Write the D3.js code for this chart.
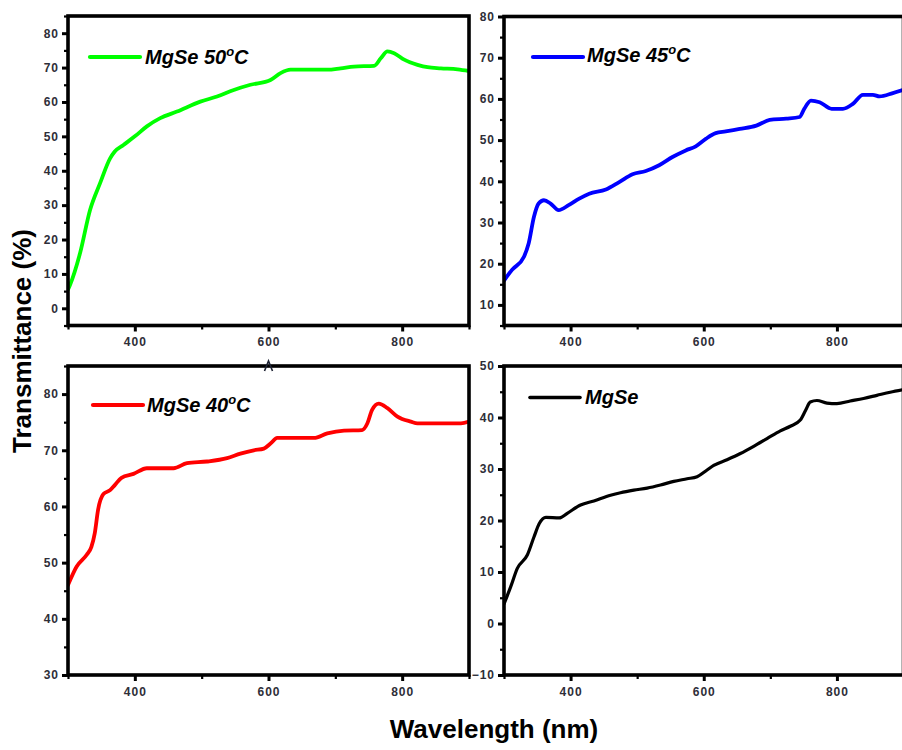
<!DOCTYPE html>
<html>
<head>
<meta charset="utf-8">
<script src="https://cdn.jsdelivr.net/npm/d3@7"></script>
<style>
  body { margin: 0; background: #fff; }
  svg { display: block; }
</style>
</head>
<body>
<svg id="chart" width="902" height="750"></svg>
<script>
// ---- Transmittance spectra (wavelength in nm, transmittance in %) ----
const nm50 = [300, 303, 318, 333, 348, 363, 370, 383, 400, 418, 438, 463, 498, 523, 548, 573, 603, 618, 633, 688, 708, 728, 758, 768, 778, 788, 803, 823, 838, 858, 883, 900];
const t50  = [5.5, 6.8, 16, 28.6, 36.4, 43.6, 45.6, 47.5, 50, 52.9, 55.3, 57.2, 60.1, 61.6, 63.5, 65, 66.4, 68.4, 69.4, 69.4, 69.8, 70.3, 70.5, 72.7, 74.7, 74.2, 72.3, 70.8, 70.1, 69.8, 69.5, 69];

const nm45 = [300, 312, 330, 337, 345, 352, 360, 370, 382, 397, 413, 428, 453, 473, 493, 513, 533, 553, 573, 588, 603, 618, 633, 654, 679, 699, 724, 744, 751, 761, 774, 792, 809, 824, 839, 854, 864, 884, 900];
const t45  = [15.9, 18.5, 21.7, 24.9, 31.4, 34.6, 35.4, 34.6, 33.0, 34.2, 35.8, 37, 38, 39.8, 41.7, 42.5, 43.9, 45.9, 47.5, 48.5, 50.3, 51.7, 52.1, 52.7, 53.5, 54.9, 55.2, 55.6, 57.6, 59.6, 59.2, 57.6, 57.6, 58.8, 61, 61, 60.6, 61.4, 62.2];

const nm40 = [300, 313, 328, 335, 340, 345, 353, 363, 370, 380, 398, 418, 458, 478, 508, 538, 558, 578, 593, 603, 613, 668, 688, 713, 740, 748, 755, 765, 778, 793, 813, 823, 888, 900];
const t40  = [46, 49.3, 51.4, 52.8, 55.2, 59.4, 62.2, 62.9, 63.8, 65.1, 65.8, 66.8, 66.8, 67.7, 68, 68.6, 69.4, 70, 70.3, 71.2, 72.2, 72.2, 73, 73.5, 73.6, 74.8, 77.2, 78.3, 77.5, 76, 75.1, 74.8, 74.8, 75.1];

const nmRT = [300, 310, 320, 335, 345, 353, 363, 383, 395, 415, 435, 460, 475, 495, 515, 535, 555, 575, 590, 605, 615, 635, 655, 675, 695, 715, 730, 745, 753, 760, 770, 785, 800, 820, 840, 860, 880, 900];
const tRT  = [3.8, 7.1, 10.7, 13.3, 16.8, 19.4, 20.6, 20.5, 21.4, 23, 23.8, 24.9, 25.4, 25.9, 26.3, 26.9, 27.6, 28.1, 28.5, 29.8, 30.7, 31.8, 33, 34.4, 35.9, 37.4, 38.3, 39.5, 41.4, 43, 43.3, 42.8, 42.7, 43.2, 43.7, 44.3, 44.9, 45.4];

// ---- Axis ticks ----
const xDomain = [300, 900];
const xMajor = [400, 600, 800];
const xMinor = [300, 500, 700, 900];

const yMajor50 = [0, 10, 20, 30, 40, 50, 60, 70, 80];
const yMinor50 = [-5, 5, 15, 25, 35, 45, 55, 65, 75, 85];
const yMajor45 = [10, 20, 30, 40, 50, 60, 70, 80];
const yMinor45 = [5, 15, 25, 35, 45, 55, 65, 75];
const yMajor40 = [30, 40, 50, 60, 70, 80];
const yMinor40 = [35, 45, 55, 65, 75, 85];
const yMajorRT = [-10, 0, 10, 20, 30, 40, 50];
const yMinorRT = [-5, 5, 15, 25, 35, 45];

// ---- Series labels (text, superscript, trailing text) ----
const labels = [
  ["MgSe 50", "o", "C"],
  ["MgSe 45", "o", "C"],
  ["MgSe 40", "o", "C"],
  ["MgSe", "", ""]
];
const colors = ["#00ff00", "#0000ff", "#ff0000", "#000000"];

// ---- Panel layout ----
const panels = [
  { x: nm50, y: t50, yDom: [-5, 85], yMaj: yMajor50, yMin: yMinor50,
    box: [68, 16, 469, 325.5], leg: [22, 41, 77, 47.5], width: 3.8 },
  { x: nm45, y: t45, yDom: [5, 80],  yMaj: yMajor45, yMin: yMinor45,
    box: [504, 16.5, 903.5, 325.5], leg: [29, 40.5, 83, 45.5], width: 3.8 },
  { x: nm40, y: t40, yDom: [30, 85], yMaj: yMajor40, yMin: yMinor40,
    box: [68, 366, 469, 675], leg: [25, 39, 79, 45.5], width: 3.8, caret: 600 },
  { x: nmRT, y: tRT, yDom: [-10, 50], yMaj: yMajorRT, yMin: yMinorRT,
    box: [504, 366, 903.5, 675], leg: [26, 31.5, 81, 37.5], width: 3.2 }
];

const FONT = "'Liberation Sans', Arial, Helvetica, sans-serif";
const svg = d3.select("#chart").style("font-family", FONT);

function styleAxis(g) {
  g.select(".domain").remove();
  g.selectAll(".tick line").attr("stroke", "#000").attr("stroke-width", 3);
  g.selectAll(".tick text")
    .attr("fill", "#2e2e38")
    .style("font-size", "12px")
    .style("font-weight", "bold")
    .style("letter-spacing", "1px");
}

panels.forEach((p, i) => {
  const [x0, y0, x1, y1] = p.box;
  const x = d3.scaleLinear().domain(xDomain).range([x0, x1]);
  const y = d3.scaleLinear().domain(p.yDom).range([y1, y0]);
  const g = svg.append("g");

  const clipId = "clip" + i;
  svg.append("clipPath").attr("id", clipId)
    .append("rect").attr("x", x0).attr("y", y0).attr("width", x1 - x0).attr("height", y1 - y0);

  // y axis: major + minor ticks
  g.append("g").attr("transform", `translate(${x0},0)`)
    .call(d3.axisLeft(y).tickValues(p.yMaj).tickSize(6).tickPadding(3).tickFormat(d3.format("d")))
    .call(styleAxis);
  g.append("g").attr("transform", `translate(${x0},0)`)
    .call(d3.axisLeft(y).tickValues(p.yMin).tickSize(4).tickFormat(""))
    .call(styleAxis)
    .selectAll(".tick line").attr("stroke-width", 2.2);

  // x axis: major + minor ticks
  g.append("g").attr("transform", `translate(0,${y1})`)
    .call(d3.axisBottom(x).tickValues(xMajor).tickSize(6).tickPadding(6).tickFormat(d3.format("d")))
    .call(styleAxis);
  g.append("g").attr("transform", `translate(0,${y1})`)
    .call(d3.axisBottom(x).tickValues(xMinor).tickSize(4).tickFormat(""))
    .call(styleAxis)
    .selectAll(".tick line").attr("stroke-width", 2.2);

  // spectrum
  const line = d3.line()
    .x((d, k) => x(p.x[k]))
    .y((d, k) => y(p.y[k]))
    .curve(d3.curveMonotoneX);
  g.append("path")
    .datum(p.y)
    .attr("clip-path", `url(#${clipId})`)
    .attr("d", line)
    .attr("fill", "none")
    .attr("stroke", colors[i])
    .attr("stroke-width", p.width)
    .attr("stroke-linejoin", "round")
    .attr("stroke-linecap", "round");

  // frame
  g.append("rect")
    .attr("x", x0).attr("y", y0)
    .attr("width", x1 - x0).attr("height", y1 - y0)
    .attr("fill", "none").attr("stroke", "#000").attr("stroke-width", 3.6);

  // small caret on the top edge
  if (p.caret) {
    const cx = x(p.caret);
    g.append("path")
      .attr("d", `M${cx - 4},${y0 + 5} L${cx},${y0 - 5} L${cx + 4},${y0 + 5}`)
      .attr("fill", "none").attr("stroke", "#1d2233").attr("stroke-width", 1.6);
  }

  // legend
  const [lx, ly, tx, ty] = p.leg;
  g.append("line")
    .attr("x1", x0 + lx).attr("x2", x0 + lx + 50)
    .attr("y1", y0 + ly).attr("y2", y0 + ly)
    .attr("stroke", colors[i]).attr("stroke-width", p.width + 0.4)
    .attr("stroke-linecap", "round");
  const t = g.append("text")
    .attr("x", x0 + tx).attr("y", y0 + ty)
    .style("font-size", "20px").style("font-weight", "bold").style("font-style", "italic")
    .attr("fill", "#000");
  t.append("tspan").text(labels[i][0]);
  if (labels[i][1]) {
    t.append("tspan").text(labels[i][1])
      .attr("dy", -8).style("font-size", "13px");
    t.append("tspan").text(labels[i][2]).attr("dy", 8);
  }
});

// axis titles
svg.append("text")
  .attr("transform", "translate(31,341) rotate(-90)")
  .attr("text-anchor", "middle")
  .style("font-size", "26px").style("font-weight", "bold")
  .attr("fill", "#000")
  .text("Transmittance (%)");

svg.append("text")
  .attr("x", 494).attr("y", 738)
  .attr("text-anchor", "middle")
  .style("font-size", "26px").style("font-weight", "bold")
  .attr("fill", "#000")
  .text("Wavelength (nm)");
</script>
</body>
</html>
